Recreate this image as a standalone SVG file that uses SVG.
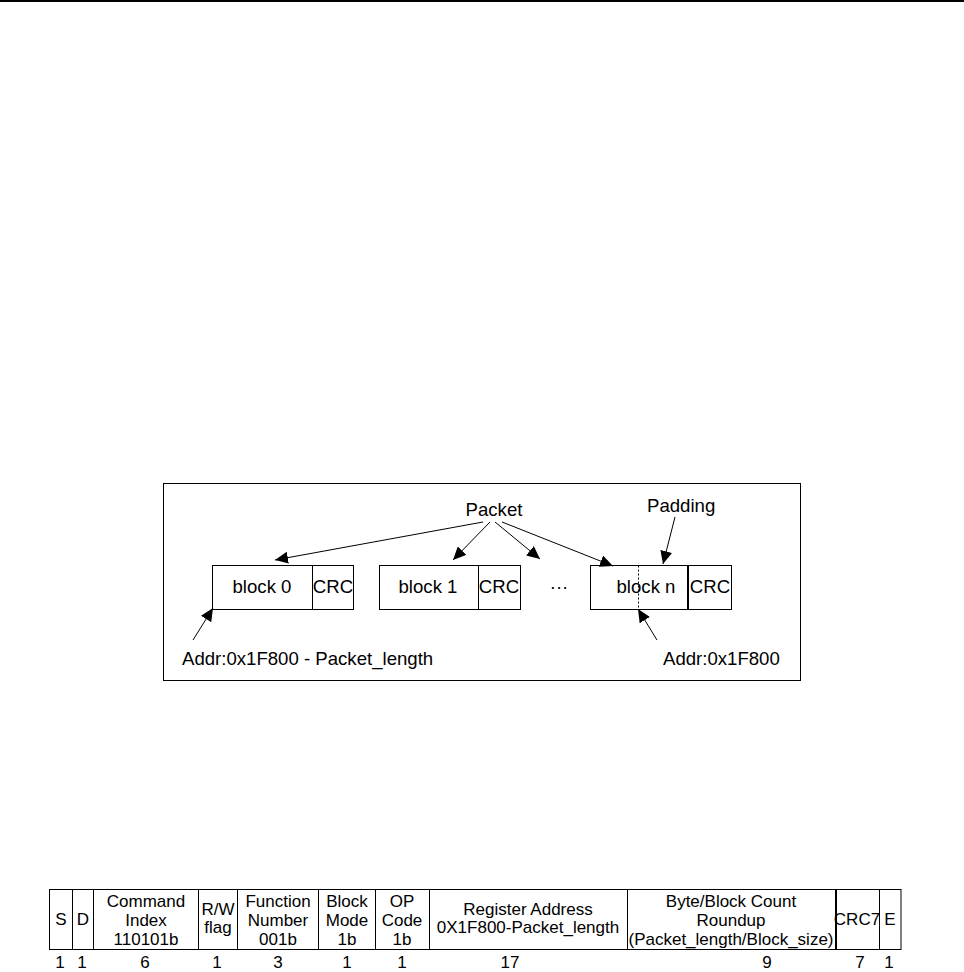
<svg xmlns="http://www.w3.org/2000/svg" width="964" height="972" viewBox="0 0 964 972">
<defs>
<style>
text{font-family:"Liberation Sans",Arial,Helvetica,sans-serif;fill:#000}
.t18{font-size:18.6px}
.t16{font-size:17px;text-anchor:middle}
.c{text-anchor:middle}
.box{fill:#fff;stroke:#000;stroke-width:1}
.ln{stroke:#000;stroke-width:1;fill:none}
.arr{stroke:#000;stroke-width:1;fill:none;marker-end:url(#ah)}
</style>
<marker id="ah" markerUnits="userSpaceOnUse" markerWidth="14" markerHeight="12" refX="13" refY="6" orient="auto">
<path d="M0,0 L13,6 L0,12 z" fill="#000"/>
</marker>
</defs>
<rect width="964" height="972" fill="#fff"/>
<line x1="0" y1="1" x2="964" y2="1" stroke="#000" stroke-width="2"/>

<g id="frame">
<rect x="163.5" y="483.5" width="637" height="197" class="box"/>
</g>

<g id="block0">
<rect x="212.5" y="565.5" width="141" height="44" class="box"/>
<line x1="312.5" y1="565.5" x2="312.5" y2="609.5" class="ln"/>
<text x="262" y="593" class="t18 c">block 0</text>
<text x="333" y="593" class="t18 c">CRC</text>
</g>

<g id="block1">
<rect x="379.5" y="565.5" width="141" height="44" class="box"/>
<line x1="478.5" y1="565.5" x2="478.5" y2="609.5" class="ln"/>
<text x="428" y="593" class="t18 c">block 1</text>
<text x="499" y="593" class="t18 c">CRC</text>
</g>

<g id="ellipsis">
<text x="559" y="593" class="t18 c">···</text>
</g>

<g id="blockn">
<rect x="590.5" y="565.5" width="141" height="44" class="box"/>
<line x1="638.5" y1="565.5" x2="638.5" y2="609.5" class="ln" stroke-dasharray="2,2"/>
<line x1="688" y1="565.5" x2="688" y2="609.5" stroke="#000" stroke-width="2"/>
<text x="646" y="593" class="t18 c">block n</text>
<text x="710" y="593" class="t18 c">CRC</text>
</g>

<g id="labels">
<text x="494" y="516" class="t18 c">Packet</text>
<text x="647" y="512" class="t18">Padding</text>
<text x="182" y="665" class="t18">Addr:0x1F800 - Packet_length</text>
<text x="663" y="665" class="t18">Addr:0x1F800</text>
</g>

<g id="connectors">
<line x1="483" y1="522" x2="275" y2="560" class="arr"/>
<line x1="490" y1="522" x2="453" y2="560" class="arr"/>
<line x1="495" y1="522" x2="540" y2="559" class="arr"/>
<line x1="502" y1="522" x2="613" y2="566" class="arr"/>
<line x1="675" y1="517" x2="663" y2="564" class="arr"/>
<line x1="193" y1="640" x2="213" y2="608" class="arr"/>
<line x1="657" y1="640" x2="638" y2="609" class="arr"/>
</g>

<g id="table">
<rect x="49.5" y="889.5" width="851.5" height="60" class="box"/>
<g class="ln">
<line x1="72.5" y1="889.5" x2="72.5" y2="949.5"/>
<line x1="93.5" y1="889.5" x2="93.5" y2="949.5"/>
<line x1="198.5" y1="889.5" x2="198.5" y2="949.5"/>
<line x1="237.5" y1="889.5" x2="237.5" y2="949.5"/>
<line x1="318.5" y1="889.5" x2="318.5" y2="949.5"/>
<line x1="375.5" y1="889.5" x2="375.5" y2="949.5"/>
<line x1="429.5" y1="889.5" x2="429.5" y2="949.5"/>
<line x1="627.5" y1="889.5" x2="627.5" y2="949.5"/>
<line x1="879.5" y1="889.5" x2="879.5" y2="949.5"/>
</g>
<line x1="836" y1="889.5" x2="836" y2="949.5" stroke="#000" stroke-width="2"/>
<text x="61" y="925" class="t16">S</text>
<text x="83" y="925" class="t16">D</text>
<text x="146" y="907" class="t16">Command</text>
<text x="146" y="926" class="t16">Index</text>
<text x="146" y="945" class="t16">110101b</text>
<text x="218" y="915" class="t16">R/W</text>
<text x="218" y="933" class="t16">flag</text>
<text x="278" y="907" class="t16">Function</text>
<text x="278" y="926" class="t16">Number</text>
<text x="278" y="945" class="t16">001b</text>
<text x="347" y="907" class="t16">Block</text>
<text x="347" y="926" class="t16">Mode</text>
<text x="347" y="945" class="t16">1b</text>
<text x="402" y="907" class="t16">OP</text>
<text x="402" y="926" class="t16">Code</text>
<text x="402" y="945" class="t16">1b</text>
<text x="528" y="915" class="t16">Register Address</text>
<text x="528" y="933" class="t16">0X1F800-Packet_length</text>
<text x="731" y="907" class="t16">Byte/Block Count</text>
<text x="731" y="926" class="t16">Roundup</text>
<text x="731" y="945" class="t16">(Packet_length/Block_size)</text>
<text x="857" y="925" class="t16">CRC7</text>
<text x="890" y="925" class="t16">E</text>
</g>

<g id="bitcounts">
<text x="60" y="968" class="t16">1</text>
<text x="82" y="968" class="t16">1</text>
<text x="145" y="968" class="t16">6</text>
<text x="217" y="968" class="t16">1</text>
<text x="278" y="968" class="t16">3</text>
<text x="347" y="968" class="t16">1</text>
<text x="402" y="968" class="t16">1</text>
<text x="510" y="968" class="t16">17</text>
<text x="767" y="968" class="t16">9</text>
<text x="860" y="968" class="t16">7</text>
<text x="889" y="968" class="t16">1</text>
</g>
</svg>
